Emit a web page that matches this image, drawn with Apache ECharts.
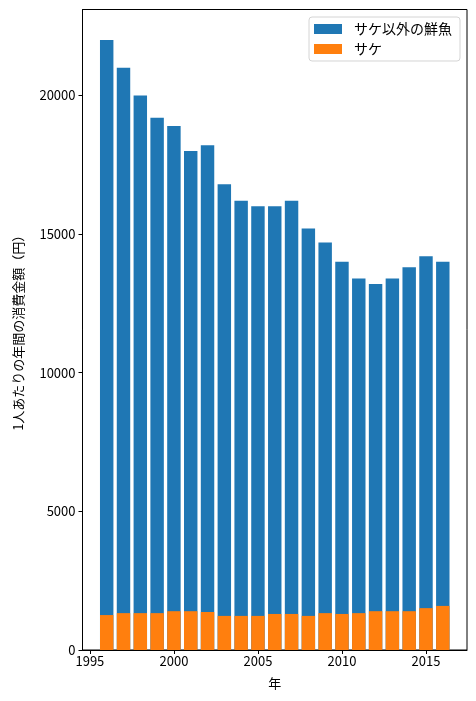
<!DOCTYPE html>
<html>
<head>
<meta charset="utf-8">
<script src="https://cdn.jsdelivr.net/npm/echarts@6/dist/echarts.min.js"></script>
<style>
  html, body { margin: 0; padding: 0; background: #fff; }
  #b { width: 476px; height: 701px; }
</style>
</head>
<body>
<div id="b"></div>
<script>
// 年ごとの値
var years = [1996, 1997, 1998, 1999, 2000, 2001, 2002, 2003, 2004, 2005, 2006,
             2007, 2008, 2009, 2010, 2011, 2012, 2013, 2014, 2015, 2016];
// 鮮魚全体の高さ（青い棒の上端）
var totalFish = [22000, 21000, 20000, 19200, 18900, 18000, 18200, 16800, 16200, 16000, 16000,
                 16200, 15200, 14700, 14000, 13400, 13200, 13400, 13800, 14200, 14000];
// サケ
var salmon = [1260, 1330, 1330, 1330, 1400, 1400, 1370, 1230, 1230, 1230, 1300,
              1300, 1230, 1330, 1300, 1330, 1400, 1400, 1400, 1510, 1590];
var xTicks = [1995, 2000, 2005, 2010, 2015];
var yTicks = [0, 5000, 10000, 15000, 20000];

var FONT = '"Noto Sans CJK JP", "DejaVu Sans", sans-serif';
var xMin = 1994.56, xMax = 2017.44;
var gridLeft = 82.5, gridRight = 9;
var plotW = 476 - gridLeft - gridRight;
var barW = plotW * 0.8 / (xMax - xMin);

function pairs(v) {
  return years.map(function (y, i) { return [y, v[i]]; });
}
function plain(v) { return String(v); }

var myChart = echarts.init(document.getElementById('b'));
var option = {
  animation: false,
  textStyle: { fontFamily: FONT },
  grid: {
    left: gridLeft, right: gridRight, top: 9.5, bottom: 51,
    show: true, borderColor: '#000', borderWidth: 1
  },
  legend: {
    orient: 'vertical',
    right: 16, top: 17,
    data: ['サケ以外の鮮魚', 'サケ'],
    itemWidth: 28, itemHeight: 10, itemGap: 6,
    padding: [5, 8, 5, 5],
    backgroundColor: '#fff',
    borderColor: '#d4d4d4', borderWidth: 1, borderRadius: 3,
    icon: 'rect',
    textStyle: { fontFamily: FONT, fontSize: 14, color: '#000', padding: [0, 0, 0, 7] }
  },
  xAxis: {
    type: 'value',
    min: xMin, max: xMax,
    name: '年', nameLocation: 'middle', nameGap: 27,
    nameTextStyle: { fontFamily: FONT, fontSize: 13, color: '#000' },
    axisLine: { lineStyle: { color: '#000' } },
    axisTick: { show: true, length: 4, customValues: xTicks, lineStyle: { color: '#000' } },
    axisLabel: { customValues: xTicks, formatter: plain, color: '#000', fontSize: 13, fontFamily: FONT, margin: 5 },
    splitLine: { show: false }
  },
  yAxis: {
    type: 'value',
    min: 0, max: 23100, interval: 5000,
    name: '1人あたりの年間の消費金額（円）', nameLocation: 'middle', nameGap: 58,
    nameTextStyle: { fontFamily: FONT, fontSize: 13, color: '#000' },
    axisLine: { show: true, lineStyle: { color: '#000' } },
    axisTick: { show: true, length: 4, customValues: yTicks, lineStyle: { color: '#000' } },
    axisLabel: { customValues: yTicks, formatter: plain, color: '#000', fontSize: 13, fontFamily: FONT, margin: 7 },
    splitLine: { show: false }
  },
  series: [
    {
      name: 'サケ以外の鮮魚',
      type: 'bar',
      data: pairs(totalFish),
      barWidth: barW,
      barGap: '-100%',
      itemStyle: { color: '#1f77b4' }
    },
    {
      name: 'サケ',
      type: 'bar',
      data: pairs(salmon),
      barWidth: barW,
      barGap: '-100%',
      itemStyle: { color: '#ff7f0e' }
    }
  ]
};
option && myChart.setOption(option);
window.addEventListener('resize', function () {
  myChart.resize();
});
</script>
</body>
</html>
